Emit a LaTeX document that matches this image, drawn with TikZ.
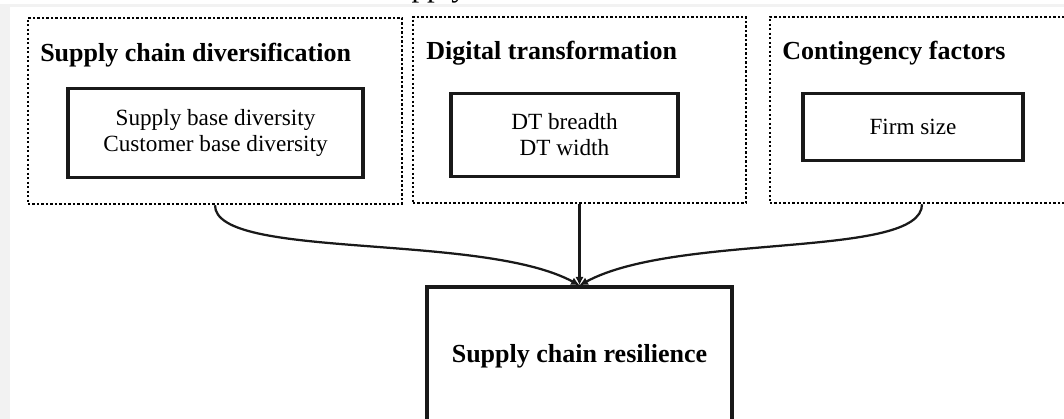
\documentclass[tikz,border=0pt]{standalone}
\usepackage{fontspec}
\setmainfont{Liberation Serif}
\usepackage{tikz}
\usetikzlibrary{arrows.meta}

\definecolor{pagegray}{RGB}{242,242,242}

\begin{document}
\begin{tikzpicture}[x=0.025cm, y=0.025cm,
        groupbox/.style={draw=black, line width=1.7pt, dash pattern=on 1.6pt off 1.6pt, minimum height=4.65cm},
        itembox/.style={draw=black!90, line width=2.4pt, align=center, font=\fontsize{16.5}{18.5}\selectfont},
        grouptitle/.style={anchor=base west, inner sep=0pt, font=\fontsize{18.5}{21}\selectfont\bfseries},
        link/.style={black!90, line width=1.6pt, -{Latex[length=6pt,width=6pt]}}]
        % Page edge and frame
        \useasboundingbox (0,0) rectangle (1064,-419);
        \clip (0,0) rectangle (1064,-419);
        \fill[pagegray] (0,-4) rectangle (1064,-419);
        \fill[white] (10,-7) rectangle (1064,-419);
        % Caption line, cut at the top
        \node[anchor=base east, inner sep=0pt, font=\fontsize{22}{26}\selectfont] (capt) at (467,3) {Supply};
        % Dotted group boxes
        \node[groupbox, minimum width=9.35cm] (div) at (215,-111) {};
        \node[groupbox, minimum width=8.325cm] (dig) at (579.5,-110) {};
        \node[groupbox, minimum width=7.6cm] (cont) at (922,-110) {};
        % Group titles
        \node[grouptitle] (divtitle) at (40,-62) {Supply chain diversification};
        \node[grouptitle] (digtitle) at (426,-60) {Digital transformation};
        \node[grouptitle] (conttitle) at (782,-60) {Contingency factors};
        % Items of each group
        \node[itembox, minimum width=7.375cm, minimum height=2.225cm] (divitems) at (215.5,-133) {Supply base diversity\\Customer base diversity};
        \node[itembox, minimum width=5.675cm, minimum height=2.075cm] (digitems) at (564.5,-135) {DT breadth\\DT width};
        \node[itembox, minimum width=5.5cm, minimum height=1.675cm] (contitems) at (913,-127) {Firm size};
        % Outcome
        \node[itembox, minimum width=7.625cm, minimum height=3.45cm, font=\fontsize{18.5}{21}\selectfont\bfseries] (res) at (579.5,-356) {Supply chain resilience};
        % Links into the outcome
        \draw[link] (div.south) .. controls +(0,-55) and +(-98,53) .. (res.north);
        \draw[link] (dig.south) -- (res.north);
        \draw[link] (cont.south) .. controls +(0,-55) and +(98,53) .. (res.north);
\end{tikzpicture}
\end{document}
